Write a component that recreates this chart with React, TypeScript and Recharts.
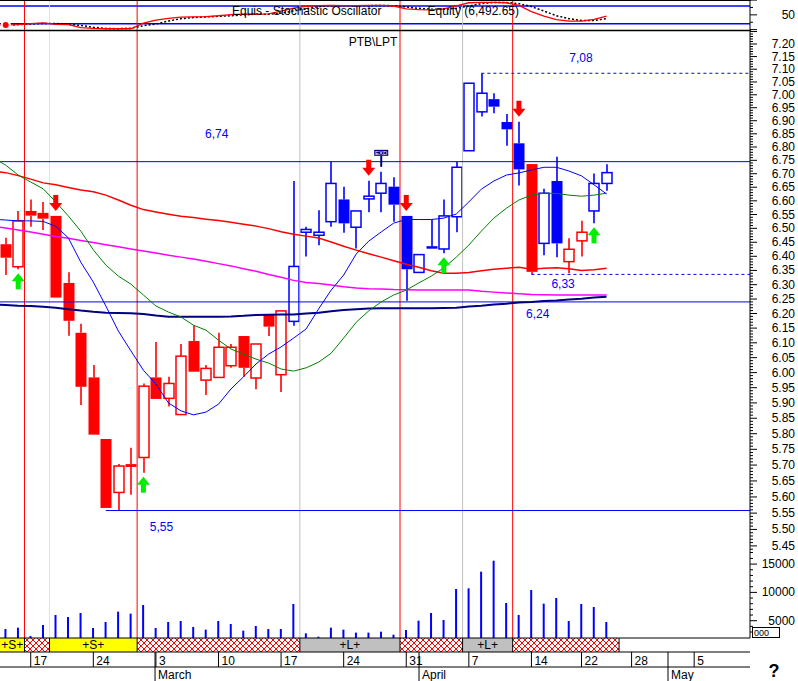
import React from 'react';
import { ComposedChart, Line, Bar, Area, Scatter, XAxis, YAxis, ReferenceLine } from 'recharts';

const FONT = '"Liberation Sans", Arial, Helvetica, sans-serif';
const X_DOMAIN: [number, number] = [-0.455, 59.46];
const PRICE_DOMAIN: [number, number] = [5.1785, 7.2521];
const VOL_DOMAIN: [number, number] = [1943, 109187];
const OSC_DOMAIN: [number, number] = [-4.7, 100.3];

// ---- daily candles (index 0 .. 48) ----
const OPEN = [6.443, 6.363, 6.563, 6.556, 6.545, 6.306, 6.134, 5.984, 5.783, 5.614,
  5.703, 5.724, 5.984, 5.915, 5.862, 6.106, 5.975, 5.984, 6.023, 6.123,
  5.982, 6.195, 5.993, 6.173, 6.486, 6.475, 6.524, 6.605, 6.504, 6.607,
  6.628, 6.652, 6.545, 6.343, 6.436, 6.426, 6.542, 6.786, 6.934, 6.983,
  6.895, 6.814, 6.736, 6.446, 6.673, 6.381, 6.455, 6.563, 6.664];
const HIGH = [6.466, 6.563, 6.605, 6.596, 6.545, 6.344, 6.165, 6.025, 5.783, 5.703,
  5.755, 5.964, 6.103, 5.986, 6.096, 6.160, 6.025, 6.134, 6.096, 6.123,
  6.096, 6.195, 6.209, 6.673, 6.506, 6.566, 6.745, 6.652, 6.563, 6.674,
  6.707, 6.687, 6.545, 6.406, 6.533, 6.605, 6.745, 7.045, 7.084, 7.006,
  6.926, 6.896, 6.736, 6.644, 6.763, 6.464, 6.527, 6.701, 6.735];
const LOW = [6.334, 6.354, 6.506, 6.494, 6.255, 6.124, 5.893, 5.797, 5.566, 5.558,
  5.607, 5.676, 5.913, 5.888, 5.862, 6.003, 5.926, 5.984, 6.016, 5.986,
  5.945, 6.123, 5.936, 6.158, 6.399, 6.439, 6.506, 6.484, 6.428, 6.558,
  6.558, 6.524, 6.244, 6.343, 6.427, 6.411, 6.486, 6.786, 6.916, 6.929,
  6.805, 6.656, 6.336, 6.404, 6.397, 6.340, 6.399, 6.518, 6.637];
const CLOSE = [6.395, 6.527, 6.546, 6.535, 6.255, 6.175, 5.953, 5.797, 5.566, 5.697,
  5.694, 5.955, 5.913, 5.964, 6.055, 6.003, 6.014, 6.085, 6.085, 6.016,
  6.096, 6.155, 6.209, 6.364, 6.496, 6.486, 6.664, 6.518, 6.563, 6.617,
  6.664, 6.586, 6.354, 6.406, 6.427, 6.545, 6.724, 7.045, 7.006, 6.954,
  6.867, 6.716, 6.345, 6.628, 6.446, 6.425, 6.486, 6.664, 6.704];
const VOLUME = [3530, 3770, 2300, 4240, 6010, 5650, 6360, 3710, 4770, 6600,
  6240, 7770, 3710, 4770, 4950, 3890, 3420, 4950, 4420, 3240,
  4060, 3530, 3530, 7950, 2770, 2180, 3770, 3420, 2890, 2890,
  3060, 2530, 3360, 5010, 6360, 5120, 10600, 10720, 13660, 15600,
  8130, 6010, 10420, 8010, 9010, 4950, 7950, 7420, 4770];
// trend state of each candle: R = short side, B = long side
const TREND = 'RRRRRRRRRRRRRRRRRRRRRRRBBBBBBBBBBBBBBBBBBBRBBRRBB';

// ---- indicators (index -1 .. 48) ----
const MA_FAST = [6.533, 6.530, 6.527, 6.527, 6.525, 6.507, 6.466, 6.379, 6.309, 6.226, 6.140,
  6.073, 6.008, 5.962, 5.900, 5.874, 5.861, 5.870, 5.896, 5.946, 5.986,
  6.029, 6.062, 6.086, 6.116, 6.147, 6.216, 6.281, 6.334, 6.408, 6.454,
  6.487, 6.519, 6.532, 6.532, 6.532, 6.537, 6.552, 6.596, 6.643, 6.673,
  6.695, 6.703, 6.714, 6.724, 6.724, 6.710, 6.692, 6.659, 6.625];
const MA_MID = [6.759, 6.732, 6.695, 6.669, 6.644, 6.596, 6.545, 6.490, 6.423, 6.369, 6.330,
  6.302, 6.264, 6.226, 6.205, 6.188, 6.160, 6.143, 6.109, 6.079, 6.062,
  6.045, 6.032, 6.012, 6.005, 6.016, 6.035, 6.065, 6.116, 6.170, 6.209,
  6.240, 6.264, 6.281, 6.306, 6.330, 6.359, 6.397, 6.440, 6.490, 6.537,
  6.573, 6.603, 6.621, 6.628, 6.627, 6.621, 6.617, 6.621, 6.628];
const MA_SLOW = [6.710, 6.704, 6.693, 6.680, 6.666, 6.659, 6.649, 6.640, 6.633, 6.621, 6.603,
  6.584, 6.568, 6.559, 6.551, 6.544, 6.539, 6.533, 6.528, 6.522, 6.515,
  6.508, 6.499, 6.488, 6.479, 6.472, 6.465, 6.451, 6.436, 6.422, 6.409,
  6.397, 6.384, 6.372, 6.361, 6.349, 6.340, 6.340, 6.343, 6.349, 6.354,
  6.358, 6.361, 6.354, 6.358, 6.359, 6.356, 6.350, 6.352, 6.358];
const MA_LONG = [6.508, 6.501, 6.494, 6.487, 6.479, 6.471, 6.464, 6.456, 6.449, 6.441, 6.434,
  6.426, 6.419, 6.412, 6.404, 6.397, 6.390, 6.382, 6.374, 6.366, 6.356,
  6.347, 6.336, 6.326, 6.315, 6.308, 6.304, 6.299, 6.293, 6.288, 6.286,
  6.285, 6.283, 6.282, 6.281, 6.281, 6.281, 6.281, 6.281, 6.277, 6.274,
  6.271, 6.268, 6.266, 6.265, 6.264, 6.264, 6.264, 6.264, 6.264];
const MA_BASE = [6.231, 6.229, 6.227, 6.226, 6.223, 6.220, 6.215, 6.210, 6.206, 6.203, 6.202,
  6.201, 6.198, 6.193, 6.189, 6.189, 6.189, 6.189, 6.189, 6.190, 6.192,
  6.195, 6.196, 6.197, 6.197, 6.200, 6.203, 6.208, 6.212, 6.215, 6.217,
  6.218, 6.218, 6.218, 6.218, 6.218, 6.219, 6.220, 6.224, 6.227, 6.231,
  6.234, 6.238, 6.240, 6.243, 6.245, 6.248, 6.251, 6.255, 6.258];
const STOCH_K = [14, 16, 17, 20, 23, 18, 17, 7, 4, 3, 3,
  3, 22, 32, 38, 42, 43, 44, 47, 51, 52,
  52, 53, 63, 73, 79, 81, 82, 81, 81, 82,
  82, 80, 70, 68, 67, 70, 80, 91, 92, 92,
  91, 82, 61, 46, 34, 29, 29, 35, 46];
const STOCH_D = [12, 14, 17, 19, 21, 21, 18, 14, 8, 4, 3,
  5, 13, 19, 29, 37, 41, 43, 45, 47, 50,
  52, 52, 56, 63, 71, 78, 81, 81, 81, 81,
  82, 81, 77, 72, 69, 69, 72, 80, 88, 92,
  92, 88, 78, 63, 47, 37, 31, 31, 37];

// ---- signals ----
const BUY_SIGNALS = [1, 11, 35, 47];
const SELL_SIGNALS = [4, 29, 32, 41];
const DIVIDEND_DAYS = [30];
const SIGNAL_LINES = [
  { i: 1.5, kind: 'sell' }, { i: 3.5, kind: 'watch' }, { i: 10.5, kind: 'sell' },
  { i: 23.5, kind: 'flat' }, { i: 31.5, kind: 'sell' }, { i: 36.5, kind: 'flat' }, { i: 40.5, kind: 'sell' },
];
const ZONES = [
  { from: -0.455, to: 1.5, kind: 'S' }, { from: 1.5, to: 3.5, kind: 'X' },
  { from: 3.5, to: 10.5, kind: 'S' }, { from: 10.5, to: 23.5, kind: 'X' },
  { from: 23.5, to: 31.5, kind: 'L' }, { from: 31.5, to: 36.5, kind: 'X' },
  { from: 36.5, to: 40.5, kind: 'L' }, { from: 40.5, to: 49.0, kind: 'X' },
];
const ZONE_TEXT: Record<string, string> = { S: '+S+', L: '+L+', X: '' };
const LEVELS = [
  { price: 6.745, text: '6,74', from: -0.455, dotted: false },
  { price: 6.24, text: '6,24', from: -0.455, dotted: false },
  { price: 5.558, text: '5,55', from: 8, dotted: false },
  { price: 7.084, text: '7,08', from: 38, dotted: true },
  { price: 6.336, text: '6,33', from: 42, dotted: true },
];
const LEVEL_LABEL_OFFSET = [[205, -24], [526, 16], [44, 20], [88, -11], [20, 14]];

// ---- axis ticks ----
const DAY_TICKS = [
  { i: 2, label: '17' }, { i: 7, label: '24' }, { i: 12, label: '3' }, { i: 17, label: '10' },
  { i: 22, label: '17' }, { i: 27, label: '24' }, { i: 32, label: '31' }, { i: 37, label: '7' },
  { i: 42, label: '14' }, { i: 46, label: '22' }, { i: 50, label: '28' }, { i: 55, label: '5' },
];
const MONTH_TICKS = [{ i: 11.93, label: 'March' }, { i: 33.02, label: 'April' }, { i: 52.91, label: 'May' }];
const PRICE_LABELS = [5.45, 5.5, 5.55, 5.6, 5.65, 5.7, 5.75, 5.8, 5.85, 5.9, 5.95, 6.0, 6.05, 6.1, 6.15,
  6.2, 6.25, 6.3, 6.35, 6.4, 6.45, 6.5, 6.55, 6.6, 6.65, 6.7, 6.75, 6.8, 6.85, 6.9, 6.95, 7.0, 7.05,
  7.1, 7.15, 7.2];
const PRICE_TICKS: number[] = [];
for (let c = 543; c <= 725; c++) PRICE_TICKS.push(c / 100);
const VOL_LABELS = [5000, 10000, 15000];
const VOL_TICKS: number[] = [];
for (let v = 3000; v <= 16000; v += 1000) VOL_TICKS.push(v);
const OSC_LABELS = [50];
const OSC_TICKS = [0, 25, 50, 75, 100];

const LINE_COLORS: Record<string, string> = { sell: '#ff0000', watch: '#ffff00', flat: '#c0c0c0' };

const rows = STOCH_K.map((_, k) => {
  const i = k - 1;
  const r: any = {
    i, k: STOCH_K[k], d: STOCH_D[k],
    maFast: MA_FAST[k], maMid: MA_MID[k], maSlow: MA_SLOW[k], maLong: MA_LONG[k], maBase: MA_BASE[k],
  };
  if (i >= 0) {
    Object.assign(r, { open: OPEN[i], high: HIGH[i], low: LOW[i], close: CLOSE[i], vol: VOLUME[i], side: TREND[i] });
  }
  return r;
});
const candleRows = rows.filter((r) => r.i >= 0);
const sellRows = SELL_SIGNALS.map((i) => ({ i, p: HIGH[i] }));
const buyRows = BUY_SIGNALS.map((i) => ({ i, p: LOW[i] }));
const divRows = DIVIDEND_DAYS.map((i) => ({ i, p: HIGH[i] }));
const stripRows = [
  ...ZONES.map((z) => ({ i: z.from, s: z.kind === 'S' ? 1 : 0, l: z.kind === 'L' ? 1 : 0, x: z.kind === 'X' ? 1 : 0 })),
  { i: ZONES[ZONES.length - 1].to, s: 0, l: 0, x: 0 },
];
const zoneLabelRows = ZONES.filter((z) => z.kind !== 'X').map((z) => ({ i: (z.from + z.to) / 2, v: 0.5, text: ZONE_TEXT[z.kind] }));

const Candle = (props: any) => {
  const { x, y, width, height, payload } = props;
  if (!payload || payload.open == null || !isFinite(y) || !isFinite(height)) return null;
  const { open, close, high, low, side } = payload;
  const color = side === 'B' ? '#0000ff' : '#ff0000';
  const lh = Math.log(high);
  const ll = Math.log(low);
  const py = (p: number) => (lh === ll ? y : y + (height * (lh - Math.log(p))) / (lh - ll));
  const cx = Math.round(x + width / 2);
  const yo = py(open);
  const yc = py(close);
  const top = Math.min(yo, yc);
  const bot = Math.max(yo, yc);
  const up = close >= open;
  const yHigh = y;
  const yLow = y + height;
  return (
    <g>
      {top - yHigh > 0.5 && <line x1={cx} x2={cx} y1={yHigh} y2={top} stroke={color} strokeWidth={1.6} />}
      {yLow - bot > 0.5 && <line x1={cx} x2={cx} y1={bot} y2={yLow} stroke={color} strokeWidth={1.6} />}
      {up ? (
        <rect x={cx - 5} y={top} width={10} height={Math.max(bot - top, 1.5)} fill="none" stroke={color} strokeWidth={1.5} />
      ) : (
        <rect x={cx - 5.5} y={top} width={11} height={Math.max(bot - top, 2)} fill={color} />
      )}
    </g>
  );
};

const SellArrow = (props: any) => {
  const { cx, cy } = props;
  if (!isFinite(cx) || !isFinite(cy)) return null;
  const t = cy - 5;
  return (
    <g>
      <rect x={cx - 2.5} y={t - 16} width={5} height={8.5} fill="#ff0000" />
      <polygon points={`${cx - 6.5},${t - 8} ${cx + 6.5},${t - 8} ${cx},${t}`} fill="#ff0000" />
    </g>
  );
};
const BuyArrow = (props: any) => {
  const { cx, cy } = props;
  if (!isFinite(cx) || !isFinite(cy)) return null;
  const t = cy + 4;
  return (
    <g>
      <polygon points={`${cx},${t} ${cx - 6.5},${t + 8} ${cx + 6.5},${t + 8}`} fill="#00ee00" />
      <rect x={cx - 2.5} y={t + 7.5} width={5} height={8.5} fill="#00ee00" />
    </g>
  );
};
const DividendMark = (props: any) => {
  const { cx, cy } = props;
  if (!isFinite(cx) || !isFinite(cy)) return null;
  return (
    <g>
      <line x1={cx} x2={cx} y1={cy - 5} y2={cy - 16} stroke="#000080" strokeWidth={2} />
      <rect x={cx - 7} y={cy - 22} width={14} height={6} fill="#000080" />
      <text x={cx} y={cy - 17} fontSize={6} fill="#ffffff" textAnchor="middle" fontFamily={FONT}>EXD</text>
    </g>
  );
};
const ZoneText = (props: any) => {
  const { cx, cy, payload } = props;
  if (!isFinite(cx) || !isFinite(cy)) return null;
  return (
    <text x={cx} y={cy + 4} textAnchor="middle" fontSize={12} fontFamily={FONT} fill="#000">{payload.text}</text>
  );
};

const LevelLabel = (props: any) => {
  const { viewBox, text, dx, dy } = props;
  if (!viewBox) return null;
  return (
    <text x={viewBox.x + dx} y={viewBox.y + dy} fill="#0000ff" fontSize={12} fontFamily={FONT}>{text}</text>
  );
};

const PriceTick = (props: any) => {
  const { x, y, payload } = props;
  const v = payload.value;
  const major = PRICE_LABELS.some((p) => Math.abs(p - v) < 1e-6);
  const five = Math.round(v * 100) % 5 === 0;
  return (
    <g>
      <line x1={x} x2={x + (five ? 7 : 3)} y1={y} y2={y} stroke="#000" strokeWidth={1} />
      {major && (
        <text x={x + 45} y={y + 4} textAnchor="end" fontSize={12} fontFamily={FONT} fill="#000">{v.toFixed(2)}</text>
      )}
    </g>
  );
};
const VolTick = (props: any) => {
  const { x, y, payload } = props;
  const v = payload.value;
  const major = VOL_LABELS.includes(v);
  return (
    <g>
      <line x1={x} x2={x + (major ? 7 : 3)} y1={y} y2={y} stroke="#000" strokeWidth={1} />
      {major && (
        <text x={x + 45} y={y + 4} textAnchor="end" fontSize={12} fontFamily={FONT} fill="#000">{v}</text>
      )}
    </g>
  );
};
const OscTick = (props: any) => {
  const { x, y, payload } = props;
  const v = payload.value;
  const major = v % 50 === 0;
  return (
    <g>
      <line x1={x} x2={x + (major ? 7 : 3)} y1={y} y2={y} stroke="#000" strokeWidth={1} />
      {OSC_LABELS.includes(v) && (
        <text x={x + 45} y={y + 4} textAnchor="end" fontSize={12} fontFamily={FONT} fill="#000">{v}</text>
      )}
    </g>
  );
};
const DayTick = (props: any) => {
  const { x, y, payload } = props;
  const t = DAY_TICKS.find((d) => Math.abs(d.i - payload.value) < 1e-6);
  return (
    <g>
      <line x1={x} x2={x} y1={y} y2={y + 15} stroke="#000" strokeWidth={1} />
      <text x={x + 3} y={y + 13} fontSize={12} fontFamily={FONT} fill="#000">{t ? t.label : ''}</text>
    </g>
  );
};
const MonthTick = (props: any) => {
  const { x, y, payload } = props;
  const t = MONTH_TICKS.find((d) => Math.abs(d.i - payload.value) < 1e-6);
  return (
    <g>
      <line x1={x} x2={x} y1={y - 15} y2={y + 14} stroke="#000" strokeWidth={1} />
      <text x={x + 3} y={y + 12} fontSize={12} fontFamily={FONT} fill="#000">{t ? t.label : ''}</text>
    </g>
  );
};

const signalLines = (prefix: string) =>
  SIGNAL_LINES.map((s, n) => (
    <ReferenceLine key={prefix + n} x={s.i} stroke={LINE_COLORS[s.kind]} strokeWidth={1} />
  ));

export default function App() {
  return (
    <div style={{ position: 'absolute', left: 0, top: 0, width: 798, height: 681, background: '#fff', overflow: 'hidden', fontFamily: FONT }}>
      <svg width={0} height={0} style={{ position: 'absolute' }}>
        <defs>
          <pattern id="hatch" width="6" height="6" patternUnits="userSpaceOnUse">
            <rect width="6" height="6" fill="#ffffff" />
            <path d="M0,0 L6,6 M6,0 L0,6" stroke="#ff0000" strokeWidth="1" />
          </pattern>
        </defs>
      </svg>

      {/* oscillator panel */}
      <div style={{ position: 'absolute', left: 0, top: 0 }}>
        <ComposedChart width={798} height={31} data={rows} margin={{ top: 0, right: 0, bottom: 0, left: 0 }}>
          <XAxis dataKey="i" type="number" domain={X_DOMAIN} allowDataOverflow hide />
          <YAxis orientation="right" width={48} type="number" domain={OSC_DOMAIN} allowDataOverflow ticks={OSC_TICKS}
            interval={0} tickSize={0} tickMargin={0} tickLine={false} axisLine={{ stroke: '#000' }} tick={<OscTick />} />
          <ReferenceLine y={80} stroke="#0000ff" strokeWidth={1.5} />
          <ReferenceLine y={20} stroke="#0000ff" strokeWidth={1.5} />
          {signalLines('a')}
          <Line dataKey="d" stroke="#000" strokeWidth={1.5} strokeDasharray="2 2" dot={false} isAnimationActive={false} />
          <Line dataKey="k" stroke="#ff0000" strokeWidth={1.3} dot={false} isAnimationActive={false} />
        </ComposedChart>
      </div>

      {/* volume (overlay, same frame as price panel) */}
      <div style={{ position: 'absolute', left: 0, top: 30 }}>
        <ComposedChart width={798} height={608} data={candleRows} margin={{ top: 1, right: 0, bottom: 0, left: 0 }}>
          <XAxis dataKey="i" type="number" domain={X_DOMAIN} allowDataOverflow hide />
          <YAxis orientation="right" width={48} type="number" domain={VOL_DOMAIN} allowDataOverflow ticks={VOL_TICKS}
            interval={0} tickSize={0} tickMargin={0} tickLine={false} axisLine={false} tick={<VolTick />} />
          <Bar dataKey="vol" fill="#0000ff" barSize={2} isAnimationActive={false} />
        </ComposedChart>
      </div>

      {/* price panel */}
      <div style={{ position: 'absolute', left: 0, top: 30 }}>
        <ComposedChart width={798} height={608} data={rows} margin={{ top: 1, right: 0, bottom: 0, left: 0 }}>
          <XAxis dataKey="i" type="number" domain={X_DOMAIN} allowDataOverflow hide />
          <YAxis orientation="right" width={48} type="number" scale="log" domain={PRICE_DOMAIN} allowDataOverflow
            ticks={PRICE_TICKS} interval={0} tickSize={0} tickMargin={0} tickLine={false}
            axisLine={{ stroke: '#000' }} tick={<PriceTick />} />
          {signalLines('b')}
          {LEVELS.map((l, n) => (
            <ReferenceLine key={'lv' + n}
              segment={[{ x: l.from, y: l.price }, { x: X_DOMAIN[1], y: l.price }]}
              stroke="#0000ff" strokeWidth={1} strokeDasharray={l.dotted ? '3 3' : undefined}
              label={<LevelLabel text={l.text} dx={LEVEL_LABEL_OFFSET[n][0]} dy={LEVEL_LABEL_OFFSET[n][1]} />} />
          ))}
          <Line dataKey="maBase" stroke="#000080" strokeWidth={2} dot={false} isAnimationActive={false} />
          <Line dataKey="maLong" stroke="#ff00ff" strokeWidth={1.5} dot={false} isAnimationActive={false} />
          <Line dataKey="maSlow" stroke="#ff0000" strokeWidth={1.5} dot={false} isAnimationActive={false} />
          <Line dataKey="maMid" stroke="#008000" strokeWidth={1} dot={false} isAnimationActive={false} />
          <Line dataKey="maFast" stroke="#0000ff" strokeWidth={1} dot={false} isAnimationActive={false} />
          <Bar dataKey={(r: any) => (r.low != null ? [r.low, r.high] : null)} barSize={11} shape={<Candle />} isAnimationActive={false} />
          <Scatter data={sellRows} dataKey="p" shape={<SellArrow />} isAnimationActive={false} />
          <Scatter data={buyRows} dataKey="p" shape={<BuyArrow />} isAnimationActive={false} />
          <Scatter data={divRows} dataKey="p" shape={<DividendMark />} isAnimationActive={false} />
        </ComposedChart>
      </div>

      {/* zone strip + date axis */}
      <div style={{ position: 'absolute', left: 0, top: 637 }}>
        <ComposedChart width={798} height={44} data={stripRows} margin={{ top: 1, right: 48, bottom: 0, left: 0 }}>
          <XAxis xAxisId="day" dataKey="i" type="number" domain={X_DOMAIN} allowDataOverflow height={15}
            ticks={DAY_TICKS.map((t) => t.i)} interval={0} tickSize={0} tickMargin={0} tickLine={false}
            axisLine={{ stroke: '#000' }} tick={<DayTick />} />
          <XAxis xAxisId="month" dataKey="i" type="number" domain={X_DOMAIN} allowDataOverflow height={14}
            ticks={MONTH_TICKS.map((t) => t.i)} interval={0} tickSize={0} tickMargin={0} tickLine={false}
            axisLine={{ stroke: '#000' }} tick={<MonthTick />} />
          <YAxis type="number" domain={[0, 1]} allowDataOverflow hide />
          <Area xAxisId="day" type="stepAfter" dataKey="s" fill="#ffff00" fillOpacity={1} stroke="none" dot={false} activeDot={false} isAnimationActive={false} />
          <Area xAxisId="day" type="stepAfter" dataKey="l" fill="#c0c0c0" fillOpacity={1} stroke="none" dot={false} activeDot={false} isAnimationActive={false} />
          <Area xAxisId="day" type="stepAfter" dataKey="x" fill="url(#hatch)" fillOpacity={1} stroke="none" dot={false} activeDot={false} isAnimationActive={false} />
          {ZONES.map((z, n) => (
            <ReferenceLine key={'zb' + n} xAxisId="day" x={z.to} stroke="#000" strokeWidth={1} />
          ))}
          <ReferenceLine xAxisId="day" y={1} stroke="#000" strokeWidth={1} />
          <Scatter xAxisId="day" data={zoneLabelRows} dataKey="v" shape={<ZoneText />} isAnimationActive={false} />
        </ComposedChart>
      </div>

      {/* static frame and titles */}
      <svg width={798} height={681} style={{ position: 'absolute', left: 0, top: 0, pointerEvents: 'none' }}>
        <line x1={0} x2={751} y1={0.5} y2={0.5} stroke="#000" />
        <line x1={0} x2={751} y1={30.5} y2={30.5} stroke="#000" strokeWidth={1.5} />
        <text x={232} y={15} fontSize={12} fontFamily={FONT} fill="#000">Equis - Stochastic Oscillator</text>
        <text x={519} y={15} fontSize={12} fontFamily={FONT} fill="#000" textAnchor="end">Equity (6,492.65)</text>
        <text x={373} y={46} fontSize={12} fontFamily={FONT} fill="#000" textAnchor="middle">PTB\LPT</text>
        <rect x={752.5} y={627.5} width={27} height={10} fill="#fff" stroke="#000" strokeWidth={1} />
        <text x={754} y={636} fontSize={9} fontFamily={FONT} fill="#000">000</text>
        <text x={774} y={677} fontSize={18} fontWeight="bold" fontFamily={FONT} fill="#000" textAnchor="middle">?</text>
      </svg>
    </div>
  );
}
